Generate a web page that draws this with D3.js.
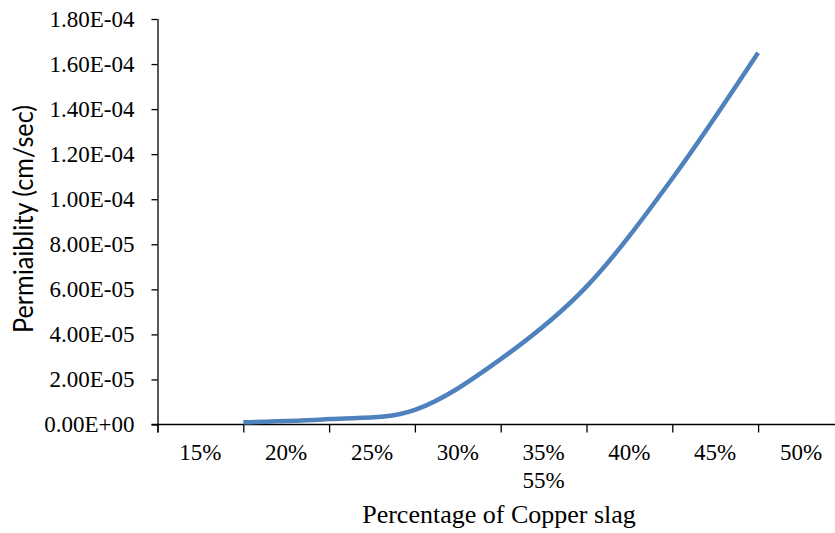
<!DOCTYPE html>
<html>
<head>
<meta charset="utf-8">
<script src="https://cdn.jsdelivr.net/npm/d3@7/dist/d3.min.js"></script>
<style>
  html, body { margin: 0; padding: 0; background: #fff; }
  svg { display: block; }
</style>
</head>
<body>
<svg id="chart" width="835" height="533"></svg>
<script>
// Category bands along the x axis
const categories = ["15%", "20%", "25%", "30%", "35%", "40%", "45%", "50%", "55%"];
// Measured permeability (cm/sec), plotted at the leading edge of each band
const pointCategories = ["20%", "25%", "30%", "35%", "40%", "45%", "50%"];
const permeability = [1.0e-6, 2.4e-6, 6.5e-6, 2.9e-5, 6.12e-5, 1.092e-4, 1.65e-4];
// Y axis ticks
const yTicks = [0, 2e-5, 4e-5, 6e-5, 8e-5, 1.0e-4, 1.2e-4, 1.4e-4, 1.6e-4, 1.8e-4];

const svg = d3.select("#chart");
const plotLeft = 157.5, plotTop = 19, plotBottom = 424.5, bandW = 85.8;

const x = d3.scaleBand()
  .domain(categories)
  .range([plotLeft, plotLeft + bandW * categories.length])
  .paddingInner(0).paddingOuter(0);

const y = d3.scaleLinear().domain([0, 1.8e-4]).range([plotBottom, plotTop]);

const serif = "'Liberation Serif', 'Times New Roman', serif";
const tickFont = 23;

// Y axis
const yAxis = svg.append("g").attr("transform", `translate(${plotLeft},0)`)
  .call(d3.axisLeft(y).tickValues(yTicks).tickSize(6).tickPadding(17)
    .tickFormat(v => {
      if (v === 0) return "0.00E+00";
      const e = Math.floor(Math.log10(v) + 1e-9);
      const m = v / Math.pow(10, e);
      return m.toFixed(2) + "E-" + String(-e).padStart(2, "0");
    }));
yAxis.select(".domain").attr("d", `M0.5,${plotTop}V${plotBottom + 8}`);
yAxis.selectAll("path, line").attr("stroke", "#000").attr("stroke-width", 1.3);
yAxis.selectAll("text").attr("font-family", serif).attr("font-size", tickFont).attr("fill", "#000");

// X axis: ticks on band boundaries, labels centred in the bands
const xAxisG = svg.append("g").attr("transform", `translate(0,${plotBottom})`);
xAxisG.append("line")
  .attr("x1", plotLeft - 6).attr("x2", x.range()[1])
  .attr("y1", 0).attr("y2", 0)
  .attr("stroke", "#000").attr("stroke-width", 1.3);
xAxisG.selectAll("line.tick")
  .data(categories)
  .join("line").attr("class", "tick")
  .attr("x1", d => x(d) + 0.5).attr("x2", d => x(d) + 0.5)
  .attr("y1", 0).attr("y2", 8)
  .attr("stroke", "#000").attr("stroke-width", 1.3);

const rowLabels = categories.slice(0, 8);
xAxisG.selectAll("text.lbl")
  .data(rowLabels)
  .join("text").attr("class", "lbl")
  .attr("x", d => x(d) + x.bandwidth() / 2)
  .attr("y", 35)
  .attr("text-anchor", "middle")
  .attr("font-family", serif).attr("font-size", tickFont).attr("fill", "#000")
  .text(d => d);
// Overflowing last label wraps onto a second row
xAxisG.append("text")
  .attr("x", x("35%") + x.bandwidth() / 2)
  .attr("y", 63)
  .attr("text-anchor", "middle")
  .attr("font-family", serif).attr("font-size", tickFont).attr("fill", "#000")
  .text(categories[8]);

// Smoothed series line
const line = d3.line()
  .x((d, i) => x(pointCategories[i]))
  .y(d => y(d))
  .curve(d3.curveCatmullRom.alpha(0));
svg.append("path")
  .datum(permeability)
  .attr("d", line)
  .attr("fill", "none")
  .attr("stroke", "#4F81BD")
  .attr("stroke-width", 4.5)
  .attr("stroke-linecap", "butt")
  .attr("stroke-linejoin", "round");

// Axis titles
svg.append("text")
  .attr("transform", "translate(33,219) rotate(-90)")
  .attr("text-anchor", "middle")
  .attr("font-family", "Lato, 'Open Sans', sans-serif")
  .attr("font-size", 26).attr("fill", "#000")
  .attr("textLength", 228).attr("lengthAdjust", "spacingAndGlyphs")
  .text("Permiaiblity (cm/sec)");

svg.append("text")
  .attr("x", 499).attr("y", 523)
  .attr("text-anchor", "middle")
  .attr("font-family", serif).attr("font-size", 26).attr("fill", "#000")
  .text("Percentage of Copper slag");
</script>
</body>
</html>
